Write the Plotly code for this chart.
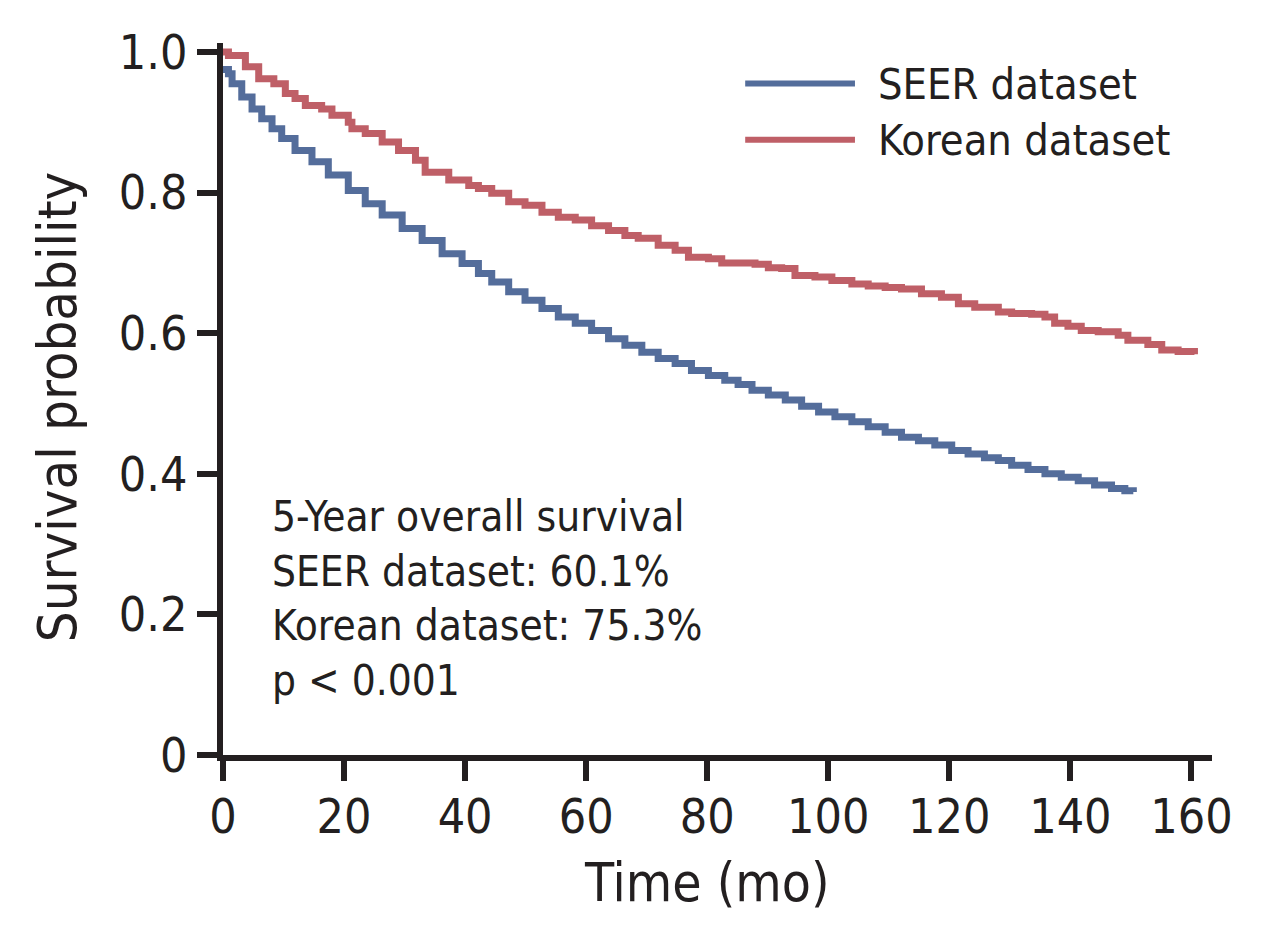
import plotly.graph_objects as go

# ---- data ----
seer_time = [0, 0.9, 1.5, 3.1, 4.8, 6.4, 8.1, 9.7, 11.9, 14.7, 17.4, 20.7, 23.5, 26.3, 29.6,
             32.9, 36.2, 39.5, 42.2, 44.4, 47.2, 49.9, 52.7, 55.4, 58.2, 60.9, 63.7, 66.4,
             69.2, 71.9, 74.7, 77.4, 80.2, 82.9, 85.1, 87.4, 90.1, 92.9, 95.6, 98.4, 101.1,
             103.9, 106.6, 109.4, 112.1, 114.9, 117.6, 120.4, 123.1, 125.8, 128.1, 130.3,
             133.0, 135.8, 138.5, 141.3, 144.0, 146.8, 149.0, 150.4]
seer_surv = [0.975, 0.969, 0.955, 0.936, 0.919, 0.905, 0.891, 0.877, 0.860, 0.844, 0.825, 0.803,
             0.784, 0.768, 0.749, 0.732, 0.713, 0.699, 0.685, 0.673, 0.659, 0.647, 0.635, 0.623,
             0.614, 0.604, 0.592, 0.583, 0.573, 0.564, 0.557, 0.547, 0.540, 0.533, 0.527, 0.519,
             0.512, 0.505, 0.496, 0.488, 0.481, 0.474, 0.467, 0.459, 0.452, 0.447, 0.441, 0.433,
             0.428, 0.423, 0.419, 0.412, 0.406, 0.400, 0.395, 0.390, 0.384, 0.379, 0.376, 0.374]

korean_time = [0, 0.9, 3.7, 5.9, 8.4, 10.3, 11.9, 13.6, 16.3, 18.0, 20.7, 21.3, 23.5, 26.3, 29.0,
               31.8, 33.4, 37.3, 40.6, 42.2, 44.4, 47.2, 49.9, 52.7, 55.4, 58.2, 60.9, 63.7,
               66.4, 68.6, 71.9, 74.7, 76.9, 80.2, 82.4, 87.9, 90.1, 92.3, 94.5, 97.8, 100.6,
               103.9, 106.6, 109.4, 112.1, 115.4, 118.7, 121.5, 124.2, 128.1, 130.3, 133.6,
               135.8, 137.4, 139.6, 141.8, 144.6, 147.9, 149.5, 152.8, 155.1, 157.8, 160.5]
korean_surv = [1.0, 0.995, 0.979, 0.962, 0.955, 0.941, 0.934, 0.924, 0.919, 0.910, 0.900, 0.891,
               0.884, 0.872, 0.860, 0.846, 0.829, 0.818, 0.810, 0.806, 0.799, 0.787, 0.782,
               0.772, 0.765, 0.761, 0.753, 0.746, 0.739, 0.735, 0.725, 0.718, 0.708, 0.706,
               0.700, 0.698, 0.693, 0.692, 0.682, 0.680, 0.675, 0.670, 0.667, 0.665, 0.663,
               0.656, 0.651, 0.642, 0.637, 0.630, 0.628, 0.627, 0.623, 0.614, 0.610, 0.604,
               0.602, 0.597, 0.590, 0.584, 0.576, 0.574, 0.570]

series_names = ["SEER dataset", "Korean dataset"]
x_ticks = [0, 20, 40, 60, 80, 100, 120, 140, 160]
y_ticks = [0, 0.2, 0.4, 0.6, 0.8, 1.0]
y_ticktext = ["0", "0.2", "0.4", "0.6", "0.8", "1.0"]
note_lines = ["5-Year overall survival", "SEER dataset: 60.1%",
              "Korean dataset: 75.3%", "p &lt; 0.001"]

BLUE = "#546d9b"
RED = "#bf5f67"
INK = "#231f20"
FONT = "DejaVu Sans Condensed, Liberation Sans Narrow, sans-serif"

fig = go.Figure()
fig.add_trace(go.Scatter(x=seer_time, y=seer_surv, mode="lines", name=series_names[0],
                         line=dict(color=BLUE, width=7, shape="hv"), showlegend=False))
fig.add_trace(go.Scatter(x=korean_time, y=korean_surv, mode="lines", name=series_names[1],
                         line=dict(color=RED, width=7, shape="hv"), showlegend=False))

# custom legend (long sample lines)
for i, (name, col) in enumerate(zip(series_names, [BLUE, RED])):
    yy = [0.943, 0.864][i]
    fig.add_shape(type="line", xref="paper", yref="paper", x0=0.528, x1=0.639, y0=yy, y1=yy,
                  line=dict(color=col, width=6))
    fig.add_annotation(xref="paper", yref="paper", x=0.660, y=yy, xanchor="left",
                       yanchor="middle", text=name, showarrow=False,
                       font=dict(family=FONT, size=43, color=INK))

fig.add_annotation(xref="paper", yref="paper", x=0.048, y=0.220, xanchor="left",
                   yanchor="middle", align="left", text="<br>".join(note_lines),
                   showarrow=False, font=dict(family=FONT, size=42, color=INK))

# axis titles
fig.add_annotation(xref="paper", yref="paper", x=0.4896, y=-0.1788, xanchor="center",
                   yanchor="middle", text="Time (mo)", showarrow=False,
                   font=dict(family=FONT, size=53, color=INK))
fig.add_annotation(xref="paper", yref="paper", x=-0.1675, y=0.489, xanchor="center",
                   yanchor="middle", text="Survival probability", textangle=-90,
                   showarrow=False, font=dict(family=FONT, size=54, color=INK))

axis_common = dict(showline=True, linewidth=6, linecolor=INK, ticks="outside", ticklen=20,
                   tickwidth=6, tickcolor=INK, showgrid=False, zeroline=False,
                   tickfont=dict(family=FONT, size=48, color=INK))
fig.update_xaxes(range=[0, 163.4], tickvals=x_ticks, ticklabelstandoff=-6, **axis_common)
fig.update_yaxes(range=[0, 1.0128], tickvals=y_ticks, ticktext=y_ticktext, **axis_common)

fig.update_layout(width=1245, height=935, plot_bgcolor="white", paper_bgcolor="white",
                  margin=dict(l=214.7, r=41, t=34.7, b=188.3),
                  font=dict(family=FONT, color=INK))

fig.write_html("out.html")
